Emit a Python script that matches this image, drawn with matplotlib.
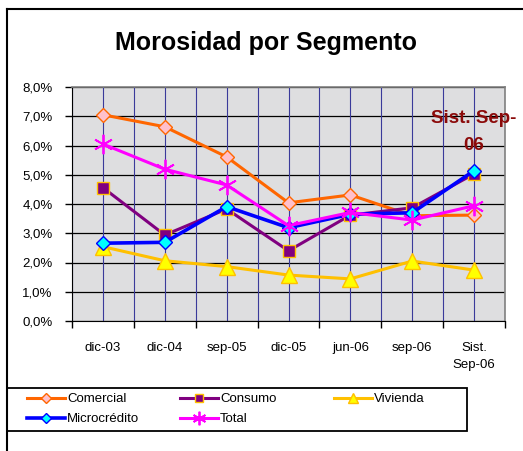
import matplotlib
matplotlib.use("Agg")
import matplotlib.pyplot as plt
from matplotlib.lines import Line2D
from matplotlib.patches import Rectangle
import numpy as np

categories = ["dic-03", "dic-04", "sep-05", "dic-05", "jun-06", "sep-06", "Sist.\nSep-06"]
comercial = [7.05, 6.64, 5.61, 4.04, 4.31, 3.60, 3.62]
consumo = [4.56, 2.94, 3.83, 2.40, 3.62, 3.87, 5.03]
vivienda = [2.54, 2.06, 1.86, 1.57, 1.44, 2.05, 1.74]
microcredito = [2.66, 2.69, 3.91, 3.19, 3.65, 3.70, 5.14]
total = [6.05, 5.19, 4.65, 3.26, 3.71, 3.45, 3.94]
yticks = [0, 1, 2, 3, 4, 5, 6, 7, 8]
ytick_labels = ["0,0%", "1,0%", "2,0%", "3,0%", "4,0%", "5,0%", "6,0%", "7,0%", "8,0%"]

plt.rcParams['font.family'] = ['Liberation Sans', 'DejaVu Sans']

W, H = 523, 451
fig = plt.figure(figsize=(W / 100, H / 100), dpi=100)
fig.patch.set_facecolor('white')

ax = fig.add_axes([72 / W, 1 - 321 / H, (505 - 72) / W, (321 - 87) / H])
ax.set_facecolor('#dedee0')

x = np.arange(len(categories))

series = [
    ("Comercial", comercial, dict(color='#FF6600', marker='D', mfc='#FFC0CB', mec='#FF6600', ms=7.5, lw=2.2)),
    ("Consumo", consumo, dict(color='#800080', marker='s', mfc='#800080', mec='#FFC000', ms=8, lw=2.2)),
    ("Vivienda", vivienda, dict(color='#FFC000', marker='^', mfc='#FFFF00', mec='#FFC000', ms=11, lw=2.2)),
    ("Microcrédito", microcredito, dict(color='#0000FF', marker='D', mfc='#00FFFF', mec='#0000FF', ms=7.5, lw=2.6)),
    ("Total", total, dict(color='#FF00FF', marker=(6, 2, 0), mfc='#FF00FF', mec='#FF00FF', ms=14, mew=1.3, lw=2.2)),
]
handles = {}
for name, vals, kw in series:
    h, = ax.plot(x, vals, label=name, zorder=3, **kw)
    handles[name] = h

ax.set_xlim(-0.5, len(categories) - 0.5)
ax.set_ylim(0, 8)

# grid
ax.set_yticks(yticks)
ax.set_yticklabels(ytick_labels)
ax.yaxis.grid(True, color='black', lw=0.9, zorder=1)
for xv in np.arange(-0.5, len(categories) - 0.4, 0.5):
    ax.axvline(xv, color='#3a3a9a', lw=0.8, zorder=1)
ax.set_axisbelow(True)

ax.set_xticks(np.arange(-0.5, len(categories), 1.0))
ax.set_xticklabels([])
ax.set_xticks(x, minor=True)
ax.set_xticklabels(categories, minor=True)
ax.tick_params(axis='x', which='minor', length=0, pad=15, labelsize=9.5)
ax.tick_params(axis='x', which='major', length=5, width=1, color='black', direction='out')
ax.tick_params(axis='y', length=5, width=1, color='black', direction='out', labelsize=9.5, pad=9)
for lab in ax.get_xticklabels(minor=True):
    lab.set_linespacing(1.6)

for s in ['top', 'right']:
    ax.spines[s].set_color('#808080')
    ax.spines[s].set_linewidth(1.2)
ax.spines['left'].set_color('black')
ax.spines['bottom'].set_color('black')

# title
fig.text(266 / W, 1 - 43 / H, "Morosidad por Segmento", ha='center', va='center',
         fontsize=18, fontweight='bold', color='black')

# annotation
fig.text(474 / W, 1 - 132 / H, "Sist. Sep-\n06", ha='center', va='center',
         fontsize=13.5, fontweight='bold', color='#8B0A0A', linespacing=1.7, zorder=5)

# frame lines
fig.add_artist(Line2D([7 / W, 1], [1 - 9 / H, 1 - 9 / H], color='black', lw=1.5))
fig.add_artist(Line2D([7 / W, 7 / W], [0, 1 - 9 / H], color='black', lw=1.5))

# legend frame
fig.add_artist(Rectangle((7 / W, 1 - 431 / H), (467 - 7) / W, (431 - 388) / H,
                         transform=fig.transFigure, fill=True, facecolor='white',
                         edgecolor='black', lw=1.3, zorder=1))

columns = [(27, ["Comercial", "Microcrédito"]), (180, ["Consumo", "Total"]), (334, ["Vivienda"])]
for xpos, names in columns:
    leg = fig.legend([handles[n] for n in names], names, loc='upper left',
                     bbox_to_anchor=(xpos / W, 1 - 393 / H), frameon=False,
                     fontsize=9.5, handlelength=2.9, numpoints=1, borderaxespad=0,
                     borderpad=0, labelspacing=0.6, handletextpad=0.15, markerscale=0.7)
    leg.set_zorder(2)

fig.savefig("out.png", dpi=100)
